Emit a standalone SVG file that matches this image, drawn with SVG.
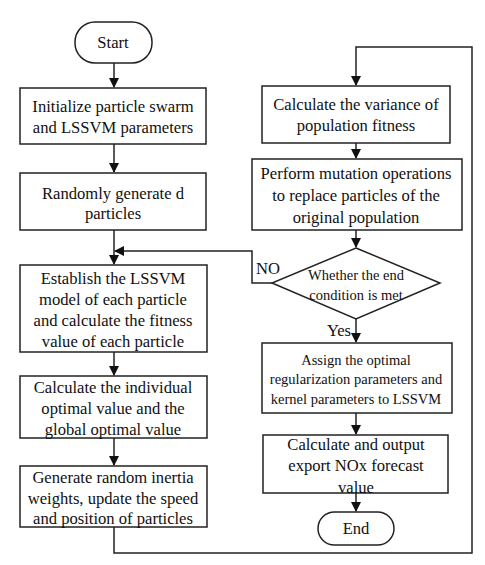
<svg xmlns="http://www.w3.org/2000/svg" width="485" height="565" viewBox="0 0 485 565">
<style>
.b{fill:#fff;stroke:#222;stroke-width:1.5}
.t{font-family:"Liberation Serif","Times New Roman",serif;font-size:16.6px;fill:#111;text-anchor:middle;dominant-baseline:central}
.s{font-size:14.5px}
.c{fill:none;stroke:#222;stroke-width:1.5}
</style>
<defs>
<marker id="a" markerWidth="10" markerHeight="10" refX="9" refY="5" orient="auto" markerUnits="userSpaceOnUse">
<path d="M0,0 L10,5 L0,10 Z" fill="#111"/>
</marker>
</defs>
<rect width="485" height="565" fill="#fff"/>
<g id="connectors">
<path class="c" d="M114,63 V87" marker-end="url(#a)"/>
<path class="c" d="M114,144 V172" marker-end="url(#a)"/>
<path class="c" d="M114,230 V264" marker-end="url(#a)"/>
<path class="c" d="M114,352 V375" marker-end="url(#a)"/>
<path class="c" d="M114,438 V465" marker-end="url(#a)"/>
<path class="c" d="M114,527 V553 H472 V47 H356 V85" marker-end="url(#a)"/>
<path class="c" d="M356,143 V158" marker-end="url(#a)"/>
<path class="c" d="M356,230 V247" marker-end="url(#a)"/>
<path class="c" d="M272,283 H252 V251 H115" marker-end="url(#a)"/>
<path class="c" d="M356,319 V342" marker-end="url(#a)"/>
<path class="c" d="M356,413 V434" marker-end="url(#a)"/>
<path class="c" d="M356,493 V511" marker-end="url(#a)"/>
</g>
<g id="start"><rect class="b" x="75" y="22" width="77" height="41" rx="20"/><text class="t" x="113" y="42">Start</text></g>
<g id="init"><rect class="b" x="20" y="88" width="186" height="56"/><text class="t" x="113" y="106">Initialize particle swarm</text><text class="t" x="113" y="127">and LSSVM parameters</text></g>
<g id="random"><rect class="b" x="20" y="173" width="186" height="57"/><text class="t" x="113" y="193">Randomly generate d</text><text class="t" x="113" y="213">particles</text></g>
<g id="establish"><rect class="b" x="20" y="265" width="187" height="87"/><text class="t" x="113" y="278">Establish the LSSVM</text><text class="t" x="113" y="299">model of each particle</text><text class="t" x="113" y="320">and calculate the fitness</text><text class="t" x="113" y="341">value of each particle</text></g>
<g id="optimal"><rect class="b" x="20" y="376" width="187" height="62"/><text class="t" x="113" y="387">Calculate the individual</text><text class="t" x="113" y="408">optimal value and the</text><text class="t" x="113" y="429">global optimal value</text></g>
<g id="inertia"><rect class="b" x="20" y="466" width="187" height="61"/><text class="t" x="113" y="477">Generate random inertia</text><text class="t" x="113" y="498">weights, update the speed</text><text class="t" x="113" y="518">and position of particles</text></g>
<g id="variance"><rect class="b" x="262" y="86" width="188" height="57"/><text class="t" x="356" y="104">Calculate the variance of</text><text class="t" x="356" y="125">population fitness</text></g>
<g id="mutation"><rect class="b" x="252" y="159" width="210" height="71"/><text class="t" x="356" y="173">Perform mutation operations</text><text class="t" x="356" y="195">to replace particles of the</text><text class="t" x="356" y="217">original population</text></g>
<g id="decision"><polygon class="b" points="356,248 440,283 356,319 272,283"/><text class="t s" x="356" y="275">Whether the end</text><text class="t s" x="356" y="295">condition is met</text></g>
<text class="t" x="268" y="268">NO</text>
<text class="t" x="339" y="330">Yes</text>
<g id="assign"><rect class="b" x="262" y="343" width="190" height="70"/><text class="t s" x="356" y="360">Assign the optimal</text><text class="t s" x="356" y="379">regularization parameters and</text><text class="t s" x="356" y="399">kernel parameters to LSSVM</text></g>
<g id="output"><rect class="b" x="263" y="435" width="185" height="58"/><text class="t" x="356" y="444">Calculate and output</text><text class="t" x="356" y="465">export NOx forecast</text><text class="t" x="356" y="487">value</text></g>
<g id="end"><rect class="b" x="318" y="512" width="76" height="33" rx="16.5"/><text class="t" x="356" y="528">End</text></g>
</svg>
